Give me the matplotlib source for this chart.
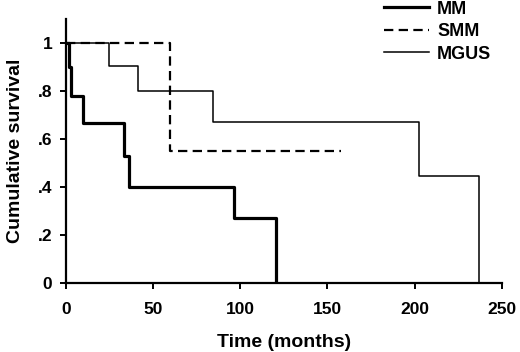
import matplotlib
matplotlib.use("Agg")
import matplotlib.pyplot as plt

plt.rcParams['font.family'] = ['Liberation Sans', 'DejaVu Sans']
plt.rcParams['font.weight'] = 'bold'

mm_t = [0, 1.5, 3, 9.5, 33.5, 36, 96.5, 120.5]
mm_s = [1, 0.9, 0.78, 0.665, 0.53, 0.4, 0.27, 0]
smm_t = [0, 59.5, 158]
smm_s = [1, 0.55, 0.55]
mgus_t = [0, 24.5, 41.5, 84.5, 202.5, 237]
mgus_s = [1, 0.905, 0.8, 0.67, 0.445, 0]

xticks = [0, 50, 100, 150, 200, 250]
yticks = [0, 0.2, 0.4, 0.6, 0.8, 1.0]
ylabels = ['0', '.2', '.4', '.6', '.8', '1']

fig = plt.figure(figsize=(5.2, 3.52), dpi=100)
ax = fig.add_axes([0.127, 0.196, 0.838, 0.75])

ax.step(mm_t, mm_s, where='post', color='black', lw=2.3, label='MM')
ax.step(smm_t, smm_s, where='post', color='black', lw=1.6, dashes=(4.2, 2.4), label='SMM')
ax.step(mgus_t, mgus_s, where='post', color='black', lw=1.1, label='MGUS')

ax.set_xlim(0, 250)
ax.set_ylim(0, 1.1)
ax.set_xticks(xticks)
ax.set_yticks(yticks)
ax.set_yticklabels(ylabels)
for s in ['top', 'right']:
    ax.spines[s].set_visible(False)
for s in ['left', 'bottom']:
    ax.spines[s].set_linewidth(1.6)
ax.tick_params(axis='both', width=1.4, length=4, labelsize=12.5)
ax.tick_params(axis='x', pad=10)
ax.tick_params(axis='y', pad=6)
for lab in ax.get_xticklabels() + ax.get_yticklabels():
    lab.set_fontweight('bold')
ax.set_xlabel('Time (months)', fontsize=14, fontweight='bold', labelpad=12)
ax.set_ylabel('Cumulative survival', fontsize=14, fontweight='bold', labelpad=10)

leg = fig.legend(*ax.get_legend_handles_labels(), loc='upper left',
                 bbox_to_anchor=(0.738, 0.998), bbox_transform=fig.transFigure,
                 frameon=False, borderpad=0, borderaxespad=0,
                 handlelength=2.5, handletextpad=0.45, labelspacing=0.3,
                 prop={'weight': 'bold', 'size': 13})

fig.savefig('out.png', dpi=100)
